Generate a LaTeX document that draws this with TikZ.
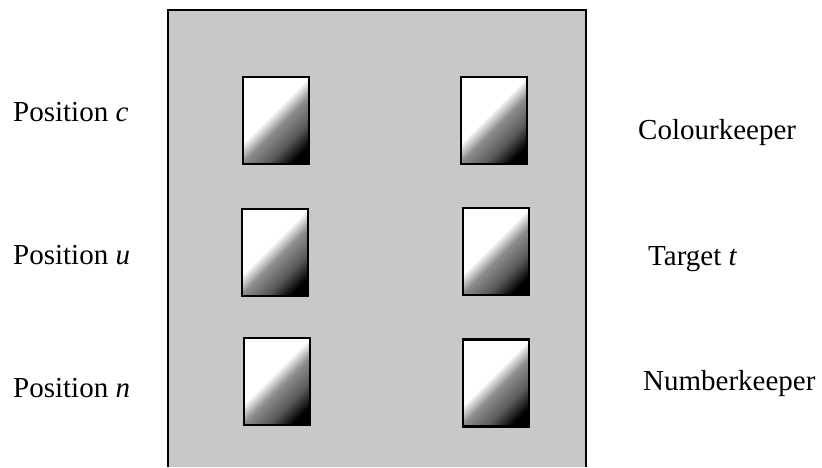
\documentclass[tikz,border=0pt]{standalone}
\usepackage{fontspec}
\setmainfont{Liberation Serif}
\usepackage{tikz}
\usetikzlibrary{positioning,calc}
\definecolor{boardgrey}{RGB}{200,200,200}
\pgfdeclarehorizontalshading{cardfade}{100bp}{color(0bp)=(white); color(45bp)=(white); color(54bp)=(black!45); color(66bp)=(black!65); color(77bp)=(black); color(100bp)=(black)}

\begin{document}
\begin{tikzpicture}[x=1pt, y=-1pt,
  every node/.style={font=\fontsize{29}{34}\selectfont},
  card/.style={draw, line width=2.2pt, shading=cardfade, shading angle=-45, minimum width=66pt, minimum height=87pt, inner sep=0pt},
  lbl/.style={anchor=base west, inner sep=0pt}]
\useasboundingbox (0,0) rectangle (822,467);
% the board
\filldraw[fill=boardgrey, line width=1.5pt] (168,467) -- (168,10) -- (586,10) -- (586,467);
% cards, left and right columns
\node[card] (pc) at (276,120.5) {};
\node[card] (pu) at (275,252.5) {};
\node[card] (pn) at (277,381.5) {};
\node[card] (ck) at (494,120.5) {};
\node[card] (tt) at (496,251.5) {};
\node[card] (nk) at (496,383) {};
% labels
\node[lbl] (lc) at (13,121) {Position \textit{c}};
\node[lbl] (lu) at (13,264) {Position \textit{u}};
\node[lbl] (ln) at (13,397) {Position \textit{n}};
\node[lbl] (lck) at (638,139) {Colourkeeper};
\node[lbl] (ltt) at (648,265) {Target \textit{t}};
\node[lbl] (lnk) at (643,390) {Numberkeeper};
\end{tikzpicture}
\end{document}
